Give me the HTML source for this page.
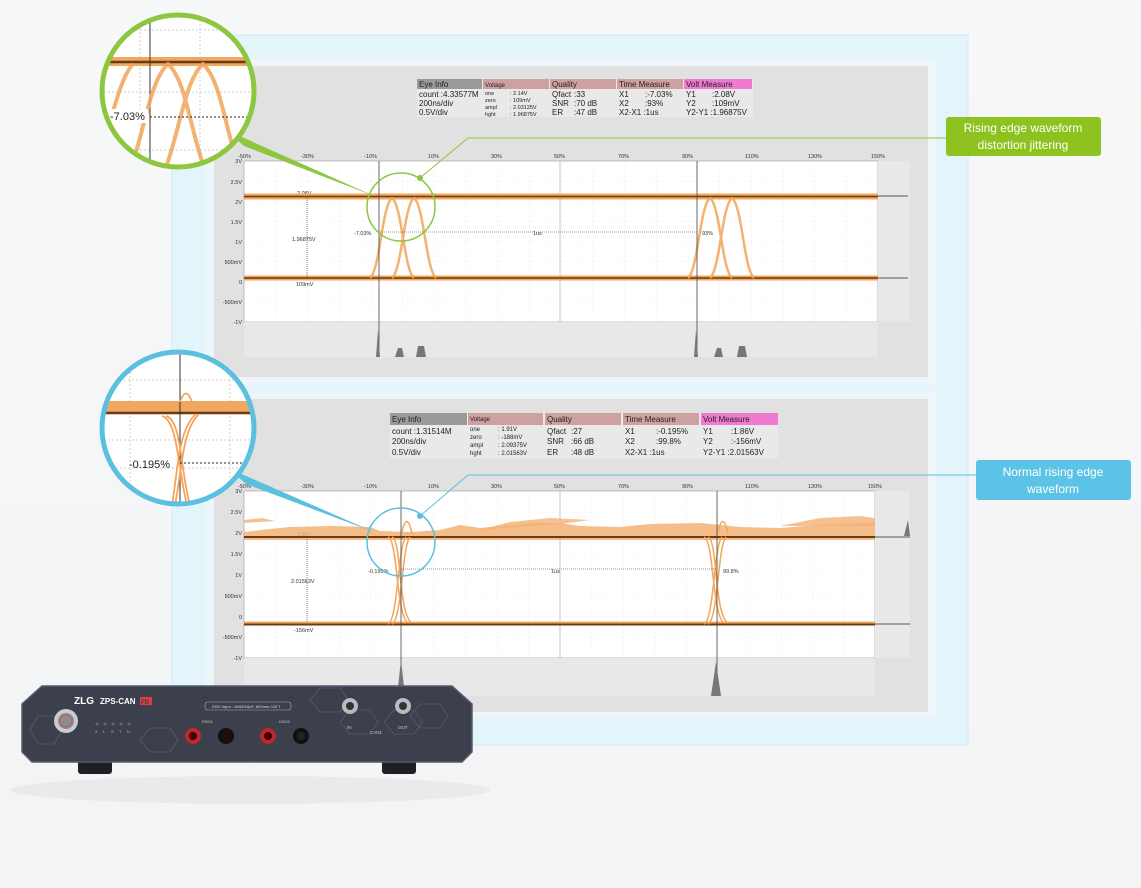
<!DOCTYPE html>
<html><head><meta charset="utf-8"><style>
html,body{margin:0;padding:0;background:#f6f7f8;}
svg{display:block;font-family:"Liberation Sans",sans-serif;}
</style></head><body>
<svg width="1141" height="888" viewBox="0 0 1141 888" xmlns="http://www.w3.org/2000/svg" xml:space="preserve">
<defs>
<linearGradient id="bg" x1="0" y1="0" x2="0" y2="1"><stop offset="0" stop-color="#f7f8f9"/><stop offset="1" stop-color="#f3f4f5"/></linearGradient>
<pattern id="g1" x="244" y="161" width="31.7" height="20.1" patternUnits="userSpaceOnUse"><path d="M0 0V20.1M0 0H31.7" stroke="#dcdcdc" stroke-width="0.6" stroke-dasharray="1.5 1.5" fill="none"/></pattern>
<pattern id="g2" x="244" y="491" width="31.6" height="20.9" patternUnits="userSpaceOnUse"><path d="M0 0V20.9M0 0H31.6" stroke="#dcdcdc" stroke-width="0.6" stroke-dasharray="1.5 1.5" fill="none"/></pattern>
<clipPath id="c1"><circle cx="178" cy="91" r="76"/></clipPath>
<clipPath id="c2"><circle cx="178" cy="428" r="76"/></clipPath>
<clipPath id="p1"><rect x="244" y="161" width="634" height="161"/></clipPath>
<clipPath id="p2"><rect x="244" y="491" width="631" height="167"/></clipPath>
</defs>
<rect width="1141" height="888" fill="url(#bg)"/>
<rect x="172" y="35" width="796" height="710" fill="#e3f4fb" stroke="#cfe9f5"/>
<rect x="205" y="59" width="731" height="326" fill="#eef6f9"/>
<rect x="214" y="66" width="714" height="311" fill="#e1e1e1"/>
<rect x="205" y="392" width="731" height="326" fill="#eef6f9"/>
<rect x="214" y="399" width="714" height="313" fill="#e1e1e1"/>

<!-- TOP TABLE -->
<g font-size="8" fill="#222">
<rect x="417" y="79" width="336" height="38" fill="#e9e9e9"/>
<rect x="417" y="79" width="65" height="10" fill="#9a9a9a"/><text x="419" y="87">Eye Info</text>
<rect x="483" y="79" width="66" height="10" fill="#cfa0a0"/><text x="485" y="87" font-size="6">Voltage</text>
<rect x="550" y="79" width="66" height="10" fill="#cfa0a0"/><text x="552" y="87">Quality</text>
<rect x="617" y="79" width="66" height="10" fill="#cfa0a0"/><text x="619" y="87">Time Measure</text>
<rect x="684" y="79" width="68" height="10" fill="#f07ad0"/><text x="686" y="87">Volt Measure</text>
<text x="419" y="97">count  :4.33577M</text><text x="419" y="106">200ns/div</text><text x="419" y="115">0.5V/div</text>
<g font-size="5.5"><text x="485" y="95">one</text><text x="510" y="95">: 2.14V</text><text x="485" y="102">zero</text><text x="510" y="102">: 109mV</text><text x="485" y="109">ampl</text><text x="510" y="109">: 2.03125V</text><text x="485" y="116">hght</text><text x="510" y="116">: 1.96875V</text></g>
<text x="552" y="97">Qfact</text><text x="574" y="97">:33</text><text x="552" y="106">SNR</text><text x="574" y="106">:70 dB</text><text x="552" y="115">ER</text><text x="574" y="115">:47 dB</text>
<text x="619" y="97">X1</text><text x="645" y="97">:-7.03%</text><text x="619" y="106">X2</text><text x="645" y="106">:93%</text><text x="619" y="115">X2-X1 :1us</text>
<text x="686" y="97">Y1</text><text x="712" y="97">:2.08V</text><text x="686" y="106">Y2</text><text x="712" y="106">:109mV</text><text x="686" y="115">Y2-Y1 :1.96875V</text>
</g>

<!-- TOP PLOT -->
<rect x="244" y="161" width="634" height="161" fill="#fff" stroke="#aaa" stroke-width="0.8"/>
<rect x="244" y="161" width="634" height="161" fill="url(#g1)"/>
<rect x="878" y="161" width="32" height="161" fill="#e8e8e8"/>
<rect x="244" y="322" width="634" height="35" fill="#e8e8e8"/>
<line x1="560" y1="161" x2="560" y2="322" stroke="#bbb" stroke-width="0.8"/>
<g font-size="5.5" fill="#333">
<text x="238" y="158">-50%</text><text x="301" y="158">-30%</text><text x="364" y="158">-10%</text><text x="428" y="158">10%</text><text x="491" y="158">30%</text><text x="554" y="158">50%</text><text x="618" y="158">70%</text><text x="682" y="158">90%</text><text x="745" y="158">110%</text><text x="808" y="158">130%</text><text x="871" y="158">150%</text>
<g text-anchor="end"><text x="242" y="163">3V</text><text x="242" y="184">2.5V</text><text x="242" y="204">2V</text><text x="242" y="224">1.5V</text><text x="242" y="244">1V</text><text x="242" y="264">500mV</text><text x="242" y="284">0</text><text x="242" y="304">-500mV</text><text x="242" y="324">-1V</text></g>
<text x="297" y="195">2.08V</text><text x="292" y="241">1.96875V</text><text x="296" y="286">109mV</text>
<text x="354" y="235">-7.03%</text><text x="533" y="235">1us</text><text x="702" y="235">93%</text>
</g>
<g clip-path="url(#p1)">
<rect x="244" y="193.5" width="634" height="6" fill="#f0a860"/>
<line x1="244" y1="196.5" x2="878" y2="196.5" stroke="#6b3a10" stroke-width="1.6"/>
<rect x="244" y="275.5" width="634" height="5" fill="#f0a860"/>
<line x1="244" y1="278" x2="878" y2="278" stroke="#6b3a10" stroke-width="1.6"/>
<g fill="none" stroke="#f2a55a" stroke-width="2.5" opacity="0.85">
<path d="M370 278 C380 270 382 205 392 198 C402 205 404 270 414 278"/>
<path d="M392 278 C402 270 404 205 414 198 C424 205 426 270 436 278"/>
<path d="M688 278 C698 270 700 205 710 198 C720 205 722 270 732 278"/>
<path d="M710 278 C720 270 722 205 732 198 C742 205 744 270 754 278"/>
</g>
</g>
<line x1="307" y1="198" x2="307" y2="278" stroke="#333" stroke-width="0.6" stroke-dasharray="1 1"/>
<line x1="380" y1="232" x2="697" y2="232" stroke="#333" stroke-width="0.6" stroke-dasharray="1 1"/>
<line x1="379" y1="161" x2="379" y2="357" stroke="#444" stroke-width="0.8"/>
<line x1="697" y1="161" x2="697" y2="357" stroke="#444" stroke-width="0.8"/>
<g fill="#777"><path d="M376 357 L378 330 L380 357Z"/><path d="M395 357 L398 348 L402 348 L404 357Z"/><path d="M416 357 L418 346 L424 346 L426 357Z"/><path d="M694 357 L696 330 L698 357Z"/><path d="M714 357 L717 348 L721 348 L723 357Z"/><path d="M737 357 L739 346 L745 346 L747 357Z"/></g>
<path d="M878 196 H908 M878 278 H908" stroke="#888" stroke-width="1.5"/>

<!-- BOTTOM TABLE -->
<g font-size="8" fill="#222">
<rect x="390" y="413" width="388" height="45" fill="#e9e9e9"/>
<rect x="390" y="413" width="77" height="12" fill="#9a9a9a"/><text x="392" y="422">Eye Info</text>
<rect x="468" y="413" width="75" height="12" fill="#cfa0a0"/><text x="470" y="421" font-size="6">Voltage</text>
<rect x="545" y="413" width="76" height="12" fill="#cfa0a0"/><text x="547" y="422">Quality</text>
<rect x="623" y="413" width="76" height="12" fill="#cfa0a0"/><text x="625" y="422">Time Measure</text>
<rect x="701" y="413" width="77" height="12" fill="#f07ad0"/><text x="703" y="422">Volt Measure</text>
<text x="392" y="434">count  :1.31514M</text><text x="392" y="444">200ns/div</text><text x="392" y="455">0.5V/div</text>
<g font-size="6"><text x="470" y="431">one</text><text x="498" y="431">: 1.91V</text><text x="470" y="439">zero</text><text x="498" y="439">: -188mV</text><text x="470" y="447">ampl</text><text x="498" y="447">: 2.09375V</text><text x="470" y="455">hght</text><text x="498" y="455">: 2.01563V</text></g>
<text x="547" y="434">Qfact</text><text x="571" y="434">:27</text><text x="547" y="444">SNR</text><text x="571" y="444">:66 dB</text><text x="547" y="455">ER</text><text x="571" y="455">:48 dB</text>
<text x="625" y="434">X1</text><text x="656" y="434">:-0.195%</text><text x="625" y="444">X2</text><text x="656" y="444">:99.8%</text><text x="625" y="455">X2-X1 :1us</text>
<text x="703" y="434">Y1</text><text x="731" y="434">:1.86V</text><text x="703" y="444">Y2</text><text x="731" y="444">:-156mV</text><text x="703" y="455">Y2-Y1 :2.01563V</text>
</g>

<!-- BOTTOM PLOT -->
<rect x="244" y="491" width="631" height="167" fill="#fff" stroke="#aaa" stroke-width="0.8"/>
<rect x="244" y="491" width="631" height="167" fill="url(#g2)"/>
<rect x="875" y="491" width="35" height="167" fill="#e8e8e8"/>
<rect x="244" y="658" width="631" height="38" fill="#e8e8e8"/>
<line x1="560" y1="491" x2="560" y2="658" stroke="#bbb" stroke-width="0.8"/>
<g font-size="5.5" fill="#333">
<text x="238" y="488">-50%</text><text x="301" y="488">-30%</text><text x="364" y="488">-10%</text><text x="428" y="488">10%</text><text x="491" y="488">30%</text><text x="554" y="488">50%</text><text x="618" y="488">70%</text><text x="682" y="488">90%</text><text x="745" y="488">110%</text><text x="808" y="488">130%</text><text x="868" y="488">150%</text>
<g text-anchor="end"><text x="242" y="493">3V</text><text x="242" y="514">2.5V</text><text x="242" y="535">2V</text><text x="242" y="556">1.5V</text><text x="242" y="577">1V</text><text x="242" y="598">500mV</text><text x="242" y="619">0</text><text x="242" y="639">-500mV</text><text x="242" y="660">-1V</text></g>
<text x="297" y="536">1.86V</text><text x="291" y="583">2.01563V</text><text x="294" y="632">-156mV</text>
<text x="368" y="573">-0.195%</text><text x="551" y="573">1us</text><text x="723" y="573">99.8%</text>
</g>
<g clip-path="url(#p2)">
<path d="M244 532 L270 529 L290 527 L330 526 L370 527 L380 531 L410 532 L440 530 L460 525 L480 528 L500 526 L530 523 L560 523 L580 526 L620 527 L650 524 L700 523 L740 527 L780 528 L830 524 L875 523 L875 540 L244 540Z" fill="#f3b274" opacity="0.85"/>
<path d="M244 520 L262 518 L275 521 L244 523Z M480 530 L510 522 L550 518 L590 520 L560 524Z M780 526 L820 518 L860 516 L875 518 L875 526Z" fill="#f3b274" opacity="0.8"/>
<line x1="244" y1="537" x2="875" y2="537" stroke="#6b3a10" stroke-width="2"/>
<line x1="244" y1="624.5" x2="875" y2="624.5" stroke="#6b3a10" stroke-width="2"/>
<rect x="244" y="621.5" width="631" height="2" fill="#f0a860"/>
<g fill="none" stroke="#f2a55a" stroke-width="1.6" opacity="0.95">
<path d="M388 537 C398 540 396 615 408 623"/><path d="M392 537 C402 540 398 615 412 623"/>
<path d="M388 624 C398 620 398 545 406 537"/><path d="M392 624 C402 620 402 545 410 537"/>
<path d="M402 532 Q407 510 412 534"/>
<path d="M704 537 C714 540 712 615 724 623"/><path d="M708 537 C718 540 714 615 728 623"/>
<path d="M704 624 C714 620 714 545 722 537"/><path d="M708 624 C718 620 718 545 726 537"/>
<path d="M718 532 Q723 510 728 534"/>
</g>
</g>
<line x1="307" y1="539" x2="307" y2="622" stroke="#333" stroke-width="0.6" stroke-dasharray="1 1"/>
<line x1="401" y1="569" x2="717" y2="569" stroke="#333" stroke-width="0.6" stroke-dasharray="1 1"/>
<line x1="401" y1="491" x2="401" y2="696" stroke="#444" stroke-width="0.8"/>
<line x1="717" y1="491" x2="717" y2="696" stroke="#444" stroke-width="0.8"/>
<g fill="#777"><path d="M397 696 L401 660 L405 696Z"/><path d="M711 696 L716 662 L721 696Z"/><path d="M904 536 L908 520 L910 536Z"/></g>
<path d="M875 537 H910 M875 624 H910" stroke="#888" stroke-width="1.5"/>

<!-- GREEN callout -->
<polygon points="226,130 244,146 374,196" fill="#8dc63f"/>
<circle cx="401" cy="207" r="34" fill="none" stroke="#8dc63f" stroke-width="1.5"/>
<polyline points="420,178 468,138 946,138" fill="none" stroke="#8dc63f" stroke-width="1"/>
<circle cx="420" cy="178" r="3" fill="#8dc63f"/>
<rect x="946" y="117" width="155" height="39" rx="3" fill="#8dc21f"/>
<text x="1023" y="132" font-size="12" fill="#fff" text-anchor="middle">Rising edge waveform</text>
<text x="1023" y="149" font-size="12" fill="#fff" text-anchor="middle">distortion jittering</text>

<circle cx="178" cy="91" r="76" fill="#fff"/>
<g clip-path="url(#c1)">
<path d="M100 30H260M100 92H260M100 150H260M140 0V170M200 0V170" stroke="#ccc" stroke-width="1" stroke-dasharray="2 2"/>
<rect x="100" y="57" width="160" height="9" fill="#f0a860"/>
<line x1="100" y1="62" x2="260" y2="62" stroke="#6b3a10" stroke-width="2.5"/>
<line x1="150" y1="0" x2="150" y2="170" stroke="#333" stroke-width="1"/>
<g fill="none" stroke="#f2a55a" stroke-width="4" opacity="0.85">
<path d="M130 170 C145 130 150 80 168 64 C186 80 190 130 205 170"/>
<path d="M165 170 C180 130 185 80 203 64 C221 80 225 130 240 170"/>
<path d="M95 170 C110 130 118 80 133 64"/>
</g>
<line x1="150" y1="117" x2="260" y2="117" stroke="#222" stroke-width="1" stroke-dasharray="2 2"/>
<rect x="108" y="109" width="40" height="14" fill="#fff"/>
<text x="110" y="120" font-size="11" fill="#222">-7.03%</text>
</g>
<circle cx="178" cy="91" r="76" fill="none" stroke="#8dc63f" stroke-width="5"/>

<!-- BLUE callout -->
<polygon points="228,468 246,484 374,532" fill="#5bc0e0"/>
<circle cx="401" cy="542" r="34" fill="none" stroke="#5bc0e0" stroke-width="1.5"/>
<polyline points="420,516 468,475 976,475" fill="none" stroke="#5bc0e0" stroke-width="1"/>
<circle cx="420" cy="516" r="3" fill="#5bc0e0"/>
<rect x="976" y="460" width="155" height="40" rx="3" fill="#5bc4e6"/>
<text x="1053" y="476" font-size="12" fill="#fff" text-anchor="middle">Normal rising edge</text>
<text x="1053" y="493" font-size="12" fill="#fff" text-anchor="middle">waveform</text>

<circle cx="178" cy="428" r="76" fill="#fff"/>
<g clip-path="url(#c2)">
<path d="M100 380H260M100 440H260M100 468H260M130 340V510M230 340V510" stroke="#ccc" stroke-width="1" stroke-dasharray="2 2"/>
<rect x="100" y="401" width="160" height="13" fill="#f0a860"/>
<line x1="100" y1="413" x2="260" y2="413" stroke="#6b3a10" stroke-width="2.5"/>
<line x1="180" y1="350" x2="180" y2="510" stroke="#333" stroke-width="1"/>
<g fill="none" stroke="#f2a55a" stroke-width="1.8">
<path d="M162 416 C178 420 178 470 187 505"/><path d="M166 416 C182 420 180 470 190 505"/>
<path d="M172 505 C178 470 178 430 196 414"/><path d="M175 505 C182 470 182 430 199 414"/>
<path d="M180 402 Q186 385 192 402"/>
</g>
<line x1="180" y1="463" x2="260" y2="463" stroke="#222" stroke-width="1" stroke-dasharray="2 2"/>
<text x="129" y="468" font-size="11" fill="#222">-0.195%</text>
</g>
<circle cx="178" cy="428" r="76" fill="none" stroke="#5bc0e0" stroke-width="5"/>

<!-- DEVICE -->
<ellipse cx="250" cy="790" rx="240" ry="14" fill="#e9eaec"/>
<rect x="78" y="760" width="34" height="14" rx="3" fill="#1e1f22"/>
<rect x="382" y="760" width="34" height="14" rx="3" fill="#1e1f22"/>
<path d="M42 686 H452 L472 704 V752 L462 762 H32 L22 752 V704Z" fill="#3b404c" stroke="#565c6c" stroke-width="1.5"/>
<g stroke="#555c6a" stroke-width="0.8" fill="none">
<path d="M30 730 L38 716 L54 716 L62 730 L54 744 L38 744Z"/><path d="M140 740 L150 728 L170 728 L178 740 L170 752 L150 752Z"/>
<path d="M310 700 L320 688 L340 688 L348 700 L340 712 L320 712Z"/><path d="M410 716 L420 704 L440 704 L448 716 L440 728 L420 728Z"/>
<path d="M340 722 L350 710 L370 710 L378 722 L370 734 L350 734Z"/><path d="M384 722 L394 710 L414 710 L422 722 L414 734 L394 734Z"/>
</g>
<text x="74" y="704" font-size="10" font-weight="bold" fill="#fff">ZLG</text>
<text x="100" y="704" font-size="8" font-weight="bold" fill="#fff">ZPS-CAN</text>
<rect x="140" y="697" width="12" height="8" fill="#e23c3c"/><text x="141" y="704" font-size="6" font-weight="bold" fill="#3b404c">FD</text>
<rect x="205" y="702" width="86" height="8" rx="3" fill="none" stroke="#aaa" stroke-width="0.6"/>
<text x="212" y="708" font-size="4" fill="#ddd">DSO Input : 1MΩ//16pF, 80Vrms CAT Ⅰ</text>
<circle cx="66" cy="721" r="12" fill="#c9ccd0"/><circle cx="66" cy="721" r="8" fill="#8a8e94"/><circle cx="66" cy="721" r="6" fill="none" stroke="#d44" stroke-width="0.8"/>
<g fill="#666"><circle cx="97" cy="724" r="1.5"/><circle cx="105" cy="724" r="1.5"/><circle cx="113" cy="724" r="1.5"/><circle cx="121" cy="724" r="1.5"/><circle cx="129" cy="724" r="1.5"/></g>
<g font-size="4" fill="#bbb"><text x="95" y="733">S</text><text x="103" y="733">L</text><text x="111" y="733">S</text><text x="119" y="733">T</text><text x="127" y="733">U</text></g>
<text x="202" y="723" font-size="4" fill="#ccc">DSO1</text><text x="279" y="723" font-size="4" fill="#ccc">DSO2</text>
<g><circle cx="193" cy="736" r="8" fill="#c0272d"/><circle cx="193" cy="736" r="4" fill="#400"/>
<circle cx="226" cy="736" r="8" fill="#111"/><circle cx="226" cy="736" r="4" fill="#2a0a0a"/>
<circle cx="268" cy="736" r="8" fill="#c0272d"/><circle cx="268" cy="736" r="4" fill="#400"/>
<circle cx="301" cy="736" r="8" fill="#111"/><circle cx="301" cy="736" r="4" fill="#222"/></g>
<circle cx="350" cy="706" r="8" fill="#b8bbc0"/><circle cx="350" cy="706" r="4" fill="#333"/>
<circle cx="403" cy="706" r="8" fill="#b8bbc0"/><circle cx="403" cy="706" r="4" fill="#333"/>
<g font-size="4.5" fill="#ccc"><text x="347" y="729">IN</text><text x="370" y="734">CAN1</text><text x="398" y="729">OUT</text></g>
</svg>
</body></html>
